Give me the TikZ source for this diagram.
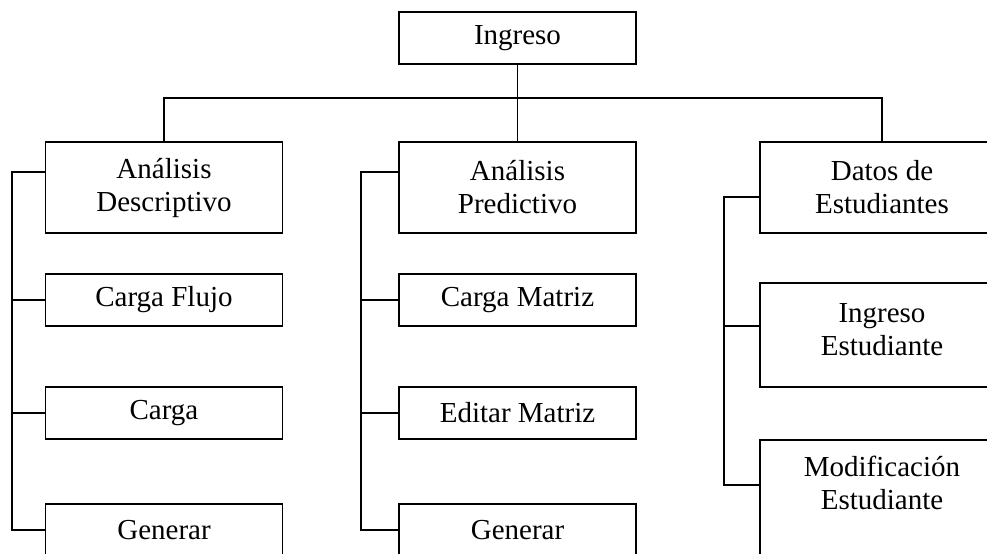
\documentclass[tikz,border=0pt]{standalone}
\usepackage{fontspec}
\setmainfont{Liberation Serif}
\usepackage{tikz}

\begin{document}
\begin{tikzpicture}[x=0.5pt,y=-0.5pt,line width=0.9pt,
  every node/.style={font=\fontsize{14.5}{16.5}\selectfont},
  caja/.style={draw,align=center,inner sep=0pt,minimum width=118.5pt,minimum height=26pt},
  cajaalta/.style={caja,minimum height=45.5pt},
  cajaancha/.style={caja,minimum width=122pt,minimum height=52pt}]
  \useasboundingbox (0,0) rectangle (987,553);
  \clip (0,0) rectangle (987,553);
  % top level
  \node[caja] (ingreso) at (517.5,38) {Ingreso};
  \node[cajaalta] (desc) at (164,187.5) {Análisis\\Descriptivo};
  \node[cajaalta] (pred) at (517.5,187.5) {Análisis\\Predictivo};
  \node[cajaalta,minimum width=122pt] (datos) at (882,187.5) {Datos de\\Estudiantes};
  % first column
  \node[caja] (flujo) at (164,300) {Carga Flujo};
  \node[caja] (carga) at (164,413) {Carga};
  \node[caja] (gen1) at (164,530) {Generar};
  % second column
  \node[caja] (cmat) at (517.5,300) {Carga Matriz};
  \node[caja] (emat) at (517.5,413) {Editar Matriz};
  \node[caja] (gen2) at (517.5,530) {Generar};
  % third column
  \node[cajaancha] (iest) at (882,335) {};
  \node[align=center] at (882,330) {Ingreso\\Estudiante};
  \node[cajaancha,minimum height=70pt] (mest) at (882,510) {};
  \node[align=center] at (882,483) {Modificación\\Estudiante};
  % bus
  \coordinate (bus) at (0,98);
  \draw (ingreso.south) -- (pred.north);
  \draw (desc.north) |- (bus -| pred.north) -| (datos.north);
  % spines
  \draw ([yshift=7.75pt]desc.west) -- ++(-33,0) coordinate (s1) |- (gen1.west);
  \foreach \n in {flujo,carga}
    \draw (\n.west) -- (\n.west -| s1);
  \draw ([yshift=7.75pt]pred.west) -- ++(-37,0) coordinate (s2) |- (gen2.west);
  \foreach \n in {cmat,emat}
    \draw (\n.west) -- (\n.west -| s2);
  \draw ([yshift=-4.75pt]datos.west) -- ++(-35,0) coordinate (s3) |- (mest.west |- 0,485);
  \draw (iest.west |- 0,326) -- (s3 |- 0,326);
\end{tikzpicture}
\end{document}
